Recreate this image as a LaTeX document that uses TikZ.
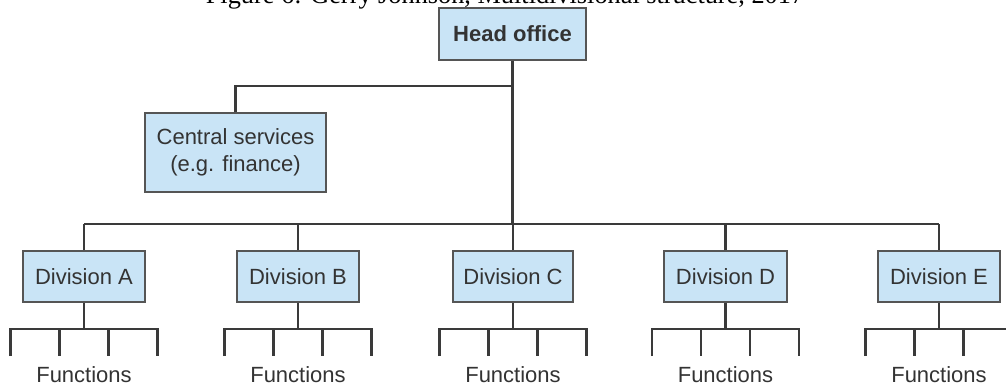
\documentclass[tikz,border=0pt]{standalone}
\usepackage{fontspec}
\setmainfont{Liberation Serif}
\setsansfont{Liberation Sans}
\definecolor{boxfill}{HTML}{C9E4F6}
\definecolor{boxline}{HTML}{555555}
\definecolor{linec}{HTML}{3A3A3A}
\definecolor{txt}{HTML}{333333}
\begin{document}
\begin{tikzpicture}[x=1pt,y=-1pt,
  box/.style={draw=boxline, line width=1.6pt, fill=boxfill, text=txt,
    font=\sffamily\fontsize{22}{27}\selectfont, inner sep=0pt, align=center},
  conn/.style={draw=linec, line width=2.6pt, line join=miter},
  fn/.style={text=txt, font=\sffamily\fontsize{22}{27}\selectfont, anchor=base, inner sep=0pt}]
\useasboundingbox (0,0) rectangle (1006,387);
\node[anchor=base, font=\fontsize{26.3}{30}\selectfont, inner sep=0pt] (title) at (505,3.5)
  {Figure 6: Gerry Johnson, Multidivisional structure, 2017};
\node[box, minimum width=147pt, minimum height=52pt,
  font=\sffamily\bfseries\fontsize{22}{27}\selectfont] (head) at (512.5,34) {Head office};
\node[box, minimum width=181pt, minimum height=79pt] (central) at (235.5,152.5)
  {Central services\\(e.g. finance)};
\coordinate (cy) at (0,86);
\coordinate (busy) at (0,224);
\draw[conn] (head.south) -- (head.south |- busy);
\draw[conn] (central.north) |- (head.south |- cy);
\foreach \n/\x/\w in {A/84/122, B/298/122, C/513/120, D/725.5/123, E/939/122}{
  \node[box, minimum width=\w pt, minimum height=51pt] (div\n) at (\x,276.5) {Division \n};
  \draw[conn] (div\n.north) -- (div\n.north |- busy);
  \coordinate (fb\n) at (\x,329);
  \draw[conn] (div\n.south) -- (fb\n);
  \draw[conn] ([xshift=-73.5pt]fb\n) ++(0,27) -- ++(0,-27) -- ++(147,0) -- ++(0,27);
  \draw[conn] ([xshift=-24.5pt]fb\n) -- ++(0,27);
  \draw[conn] ([xshift=24.5pt]fb\n) -- ++(0,27);
  \node[fn] (f\n) at (\x,382) {Functions};
}
\draw[conn] (divA.north |- busy) -- (divE.north |- busy);
\end{tikzpicture}
\end{document}
